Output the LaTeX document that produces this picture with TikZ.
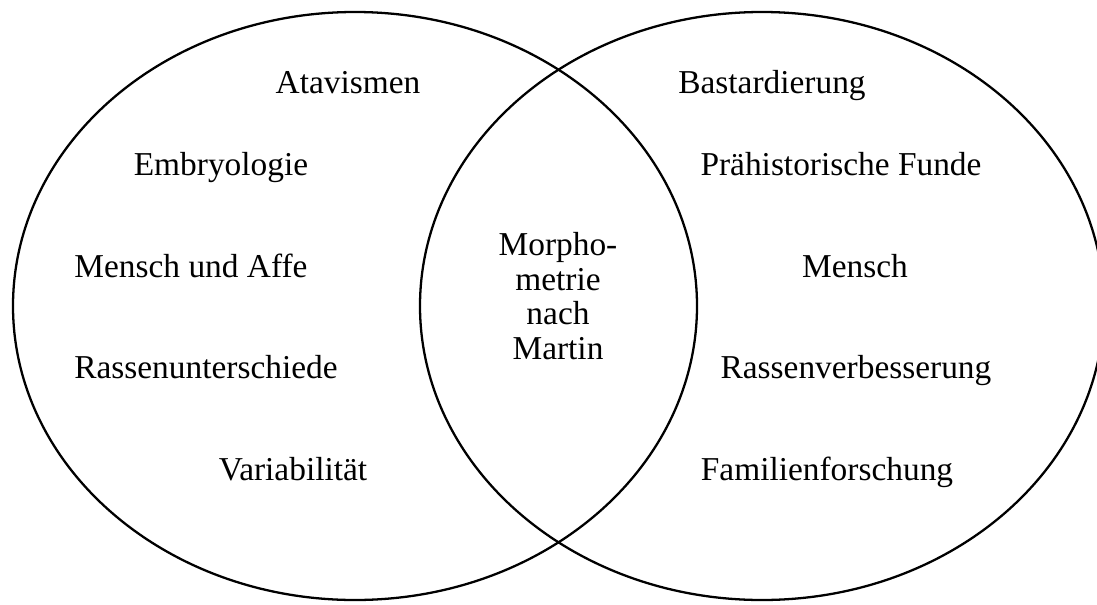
\documentclass[tikz,border=0pt]{standalone}
\usepackage{fontspec}
\setmainfont{Liberation Serif}
\usetikzlibrary{positioning}

\begin{document}
\begin{tikzpicture}[
    field/.style={font=\fontsize{19}{19.6}\selectfont, anchor=base, inner sep=0pt},
    core/.style={font=\fontsize{19}{19.6}\selectfont, align=center, inner sep=0pt},
    rim/.style={line width=1.3pt}
  ]
  \useasboundingbox (0,0) rectangle (21.94,12.08);
  \clip (0,0) rectangle (21.94,12.08);
  % two overlapping fields
  \draw[rim] (7.10,5.96) ellipse [x radius=6.84cm, y radius=5.88cm];
  \draw[rim] (15.24,5.96) ellipse [x radius=6.84cm, y radius=5.88cm];
  % left field
  \node[field] (atav) at (6.96,10.22) {Atavismen};
  \node[field] (embryo) at (4.42,8.58) {Embryologie};
  \node[field] (affe) at (3.82,6.54) {Mensch und Affe};
  \node[field] (unter) at (4.12,4.52) {Rassenunterschiede};
  \node[field] (vari) at (5.86,2.48) {Variabilität};
  % right field
  \node[field] (bast) at (15.44,10.22) {Bastardierung};
  \node[field] (funde) at (16.82,8.58) {Prähistorische Funde};
  \node[field] (mensch) at (17.10,6.54) {Mensch};
  \node[field] (verb) at (17.12,4.52) {Rassenverbesserung};
  \node[field] (fam) at (16.54,2.48) {Familienforschung};
  % overlap
  \node[core] (martin) at (11.16,6.16) {Morpho-\\metrie\\nach\\Martin};
\end{tikzpicture}
\end{document}
